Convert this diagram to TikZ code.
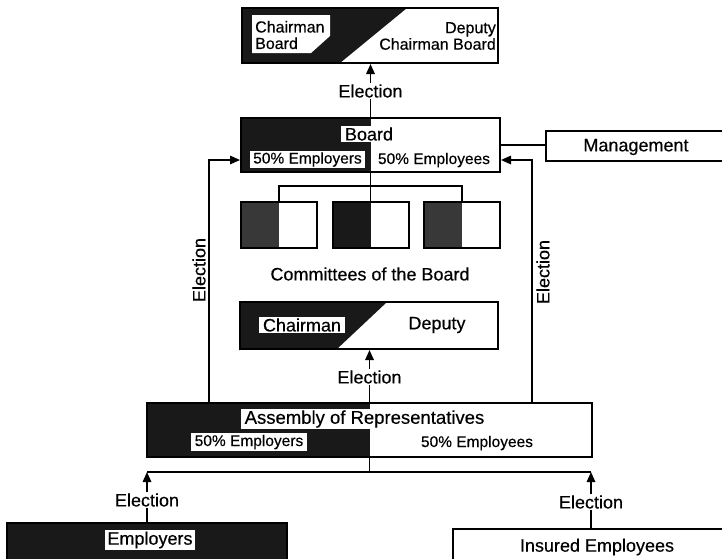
\documentclass[tikz,border=0pt]{standalone}
\usepackage{fontspec}
\setmainfont{Liberation Sans}[FakeBold=0.35]
\usetikzlibrary{arrows.meta,calc}
\pgfdeclarelayer{background}
\pgfsetlayers{background,main}
\definecolor{ink}{gray}{0.1}
\definecolor{inkc}{gray}{0.22}
\tikzset{
  box/.style={draw, line width=2pt, inner sep=0pt},
  wire/.style={line width=1.6pt},
  arr/.style={wire, -{Triangle[length=10pt,width=8.5pt]}},
  lbl/.style={font=\fontsize{18}{20}\selectfont, inner sep=1pt},
  small/.style={font=\fontsize{15.5}{17}\selectfont, inner sep=1.5pt},
  tag/.style={fill=white, inner xsep=3.5pt, inner ysep=1.5pt},
  pair/.style={font=\fontsize{16}{16.5}\selectfont, inner sep=0pt},
}
\begin{document}
\begin{tikzpicture}[x=1pt,y=-1pt]
\useasboundingbox (0,0) rectangle (722,558);
\clip (0,0) rectangle (722,558);

% ---------- boxes ----------
\node[box, minimum width=256pt, minimum height=55pt] (top) at (370,35.5) {};
\node[box, minimum width=259pt, minimum height=54pt] (board) at (370.5,145) {};
\node[box, minimum width=200pt, minimum height=30pt, anchor=west] (mgmt) at (545,146) {};
\node[box, minimum width=76pt, minimum height=46pt] (c1) at (279,225) {};
\node[box, minimum width=76pt, minimum height=46pt] (c2) at (370.5,225) {};
\node[box, minimum width=76pt, minimum height=46pt] (c3) at (462,225) {};
\node[box, minimum width=258pt, minimum height=47pt] (chair) at (369,325.5) {};
\node[box, minimum width=445pt, minimum height=54pt] (asm) at (369.5,430) {};
\node[box, fill=ink, minimum width=280pt, minimum height=50pt] (emp) at (147,548) {};
\node[box, minimum width=288pt, minimum height=44pt] (ins) at (597,551) {};

% ---------- dark halves ----------
\begin{pgfonlayer}{background}
  \fill[ink] (top.north west) -- (407,8) -- (340,63) -- (top.south west) -- cycle;
  \fill[ink] (board.north west) rectangle (board.south);
  \fill[inkc] (c1.north west) rectangle (c1.south);
  \fill[ink] (c2.north west) rectangle (c2.south);
  \fill[inkc] (c3.north west) rectangle (c3.south);
  \fill[ink] (chair.north west) -- (387,302) -- (337,349) -- (chair.south west) -- cycle;
  \fill[ink] (asm.north west) rectangle (asm.south);
\end{pgfonlayer}

% ---------- texts ----------
\fill[white] (252,15) -- (330,15) -- (330,36) -- (311,53) -- (252,53) -- cycle;
\node[pair, anchor=west, align=left] (chb) at (255,35) {Chairman\\Board};
\node[pair, anchor=east, align=right] (dcb) at (496,36) {Deputy\\Chairman Board};

\node[lbl, tag] (btitle) at (369,134) {Board};
\node[small, tag] (bemp) at (307.5,159.5) {50\% Employers};
\node[small] (bins) at (434,160) {50\% Employees};
\node[lbl] (mtext) at (636,147) {Management};

\node[lbl] (cotb) at (370,274) {Committees of the Board};

\node[lbl, tag] (chtxt) at (302,325) {Chairman};
\node[lbl] (dptxt) at (437,325) {Deputy};

\node[lbl, tag, font=\fontsize{18.5}{20}\selectfont] (atitle) at (364.5,419) {Assembly of Representatives};
\node[small, tag] (aemp) at (249,442) {50\% Employers};
\node[small] (ains) at (477,443) {50\% Employees};

\node[lbl, tag, inner xsep=2.5pt] (etxt) at (150,540) {Employers};
\node[lbl] (itxt) at (597,547) {Insured Employees};

% ---------- election labels ----------
\node[lbl] (e1) at (370.5,91) {Election};
\node[lbl] (e2) at (369.5,377) {Election};
\node[lbl] (e3) at (147,500) {Election};
\node[lbl] (e4) at (591,502) {Election};
\node[lbl, rotate=90] (eL) at (199,270) {Election};
\node[lbl, rotate=90] (eR) at (543,272) {Election};

% ---------- connectors ----------
\draw[wire] (board.north) -- (e1.south);
\draw[arr] (e1.north) -- (e1.north |- top.south);

\draw[wire] (board.east) -- (board.east -| mgmt.west);

\draw[wire] (board.south) -- (c2.north);
\draw[wire] (c1.north) -- ++(0,-15) -| (c3.north);

\draw[wire] (asm.north) -- (e2.south);
\draw[arr] (e2.north) -- (e2.north |- chair.south);

\coordinate (L) at (209,160);
\coordinate (R) at (532,160);
\draw[arr] (asm.north -| L) -- (L) -- (L -| board.west);
\draw[arr] (asm.north -| R) -- (R) -- (R -| board.east);

\coordinate (J) at (369.5,472);
\draw[wire] (asm.south) -- (J);
\draw[wire] (J -| e3.north) -- (J -| e4.north);
\draw[wire] (emp.north) -- (e3.south);
\draw[arr] (e3.north) -- (e3.north |- J);
\draw[wire] (e4.south) -- (e4.south |- ins.north);
\draw[arr] (e4.north) -- (e4.north |- J);
\end{tikzpicture}
\end{document}
